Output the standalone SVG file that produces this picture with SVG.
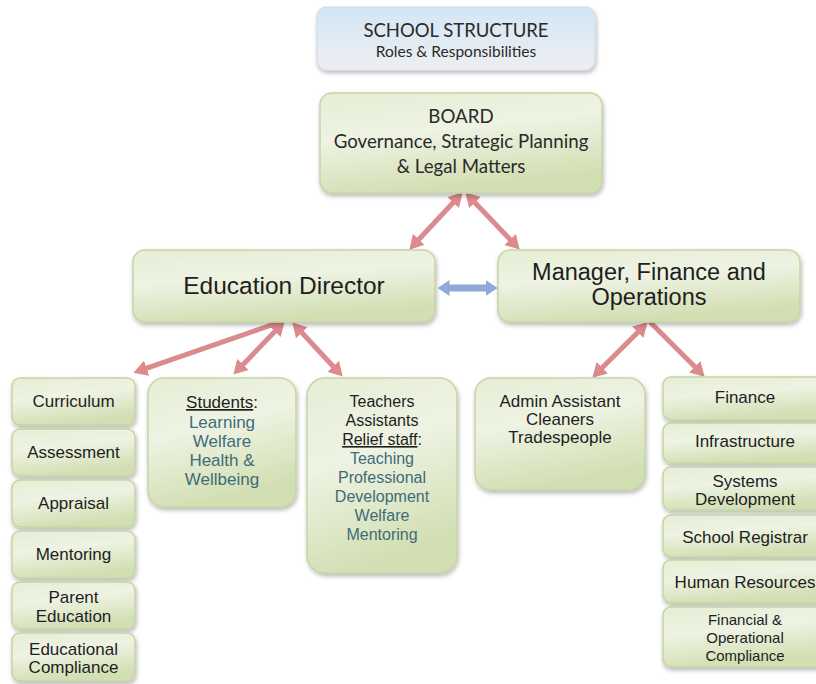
<svg xmlns="http://www.w3.org/2000/svg" width="816" height="684" viewBox="0 0 816 684">
  <style>
    .box { fill: url(#green); stroke: #c5d5a2; stroke-width: 1.5; filter: url(#shadow); }
    .title-box { fill: url(#blueish); stroke: #d3dde6; stroke-width: 1.2; filter: url(#shadow); }
    .cal { font-family: Lato, "Open Sans", sans-serif; fill: #2a2a2a; text-anchor: middle; }
    .ar { font-family: "Liberation Sans", Arial, sans-serif; fill: #1e1e1e; text-anchor: middle; }
    .big { font-size: 24.5px; }
    .sm { font-size: 17px; }
    .teal { fill: #3e6c78; }
    .u { text-decoration: underline; }
    .red { stroke: #db8a8d; stroke-width: 5; fill: none; }
    .blue { stroke: #8eabd7; stroke-width: 7; fill: none; }
  </style>
  <defs>
    <linearGradient id="green" x1="0" y1="0" x2="0.3" y2="1">
      <stop offset="0" stop-color="#e6eed5"/>
      <stop offset="0.45" stop-color="#eef3e3"/>
      <stop offset="1" stop-color="#d2dfb3"/>
    </linearGradient>
    <linearGradient id="blueish" x1="0" y1="0" x2="0" y2="1">
      <stop offset="0" stop-color="#d3e6f5"/>
      <stop offset="1" stop-color="#edeff1"/>
    </linearGradient>
    <filter id="shadow" x="-10%" y="-10%" width="125%" height="135%">
      <feDropShadow dx="1" dy="2.5" stdDeviation="2" flood-color="#000" flood-opacity="0.28"/>
    </filter>
    <marker id="redHead" viewBox="0 0 14 16" refX="0.5" refY="8" markerWidth="14" markerHeight="16" markerUnits="userSpaceOnUse" orient="auto-start-reverse">
      <path d="M0,0 L14,8 L0,16 z" fill="#db8a8d"/>
    </marker>
    <marker id="blueHead" viewBox="0 0 12 16" refX="0.5" refY="8" markerWidth="12" markerHeight="16" markerUnits="userSpaceOnUse" orient="auto-start-reverse">
      <path d="M0,0 L12,8 L0,16 z" fill="#8eabd7"/>
    </marker>
  </defs>

  <rect width="816" height="684" fill="#ffffff"/>

  <!-- connectors -->
  <g id="connectors">
    <line class="red" x1="453.5" y1="202.2" x2="418.5" y2="239.8" marker-start="url(#redHead)" marker-end="url(#redHead)"/>
    <line class="red" x1="474.6" y1="202.2" x2="510.4" y2="239.8" marker-start="url(#redHead)" marker-end="url(#redHead)"/>
    <line class="red" x1="283" y1="321" x2="146.2" y2="368.4" marker-end="url(#redHead)"/>
    <line class="red" x1="275.3" y1="331.1" x2="242.7" y2="364.9" marker-start="url(#redHead)" marker-end="url(#redHead)"/>
    <line class="red" x1="301.5" y1="332.3" x2="333.5" y2="366.7" marker-start="url(#redHead)" marker-end="url(#redHead)"/>
    <line class="red" x1="638.1" y1="331.9" x2="601.9" y2="368.1" marker-start="url(#redHead)" marker-end="url(#redHead)"/>
    <line class="red" x1="650" y1="322" x2="695.1" y2="367.1" marker-end="url(#redHead)"/>
    <line class="blue" x1="449" y1="288" x2="486" y2="288" marker-start="url(#blueHead)" marker-end="url(#blueHead)"/>
  </g>

  <!-- heading -->
  <g id="title">
    <rect class="title-box" x="317" y="7" width="278" height="63" rx="10"/>
    <text class="cal" x="456" y="37" font-size="18.5">SCHOOL STRUCTURE</text>
    <text class="cal" x="456" y="57" font-size="15.5">Roles &amp; Responsibilities</text>
  </g>

  <g id="board">
    <rect class="box" x="320" y="93" width="282" height="100" rx="12"/>
    <text class="cal" x="461" y="123" font-size="18.7">BOARD</text>
    <text class="cal" x="461" y="148" font-size="18.7">Governance, Strategic Planning</text>
    <text class="cal" x="461" y="173" font-size="18.7">&amp; Legal Matters</text>
  </g>

  <g id="education-director">
    <rect class="box" x="133" y="250" width="302" height="72" rx="12"/>
    <text class="ar big" x="284" y="294">Education Director</text>
  </g>

  <g id="manager">
    <rect class="box" x="498" y="250" width="302" height="72" rx="12"/>
    <text class="ar" font-size="23.5" x="649" y="280">Manager, Finance and</text>
    <text class="ar" font-size="23.5" x="649" y="305">Operations</text>
  </g>

  <!-- education column -->
  <g id="curriculum">
    <rect class="box" x="12" y="378" width="123" height="47" rx="8"/>
    <text class="ar sm" x="73.5" y="407">Curriculum</text>
  </g>
  <g id="assessment">
    <rect class="box" x="12" y="429" width="123" height="47" rx="8"/>
    <text class="ar sm" x="73.5" y="458">Assessment</text>
  </g>
  <g id="appraisal">
    <rect class="box" x="12" y="480" width="123" height="47" rx="8"/>
    <text class="ar sm" x="73.5" y="509">Appraisal</text>
  </g>
  <g id="mentoring">
    <rect class="box" x="12" y="531" width="123" height="47" rx="8"/>
    <text class="ar sm" x="73.5" y="560">Mentoring</text>
  </g>
  <g id="parent-education">
    <rect class="box" x="12" y="582" width="123" height="47" rx="8"/>
    <text class="ar sm" x="73.5" y="603">Parent</text>
    <text class="ar sm" x="73.5" y="622">Education</text>
  </g>
  <g id="educational-compliance">
    <rect class="box" x="12" y="633" width="123" height="48" rx="8"/>
    <text class="ar sm" x="73.5" y="655">Educational</text>
    <text class="ar sm" x="73.5" y="673">Compliance</text>
  </g>

  <g id="students">
    <rect class="box" x="148" y="378" width="148" height="129" rx="16"/>
    <text class="ar sm" x="222" y="408"><tspan class="u">Students</tspan>:</text>
    <text class="ar sm teal" x="222" y="428">Learning</text>
    <text class="ar sm teal" x="222" y="447">Welfare</text>
    <text class="ar sm teal" x="222" y="466">Health &amp;</text>
    <text class="ar sm teal" x="222" y="485">Wellbeing</text>
  </g>

  <g id="teachers">
    <rect class="box" x="307" y="378" width="150" height="195" rx="18"/>
    <text class="ar" font-size="16" x="382" y="407">Teachers</text>
    <text class="ar" font-size="16" x="382" y="426">Assistants</text>
    <text class="ar" font-size="16" x="382" y="445"><tspan class="u">Relief staff</tspan>:</text>
    <text class="ar teal" font-size="16" x="382" y="464">Teaching</text>
    <text class="ar teal" font-size="16" x="382" y="483">Professional</text>
    <text class="ar teal" font-size="16" x="382" y="502">Development</text>
    <text class="ar teal" font-size="16" x="382" y="521">Welfare</text>
    <text class="ar teal" font-size="16" x="382" y="540">Mentoring</text>
  </g>

  <!-- operations column -->
  <g id="admin">
    <rect class="box" x="475" y="378" width="170" height="112" rx="16"/>
    <text class="ar sm" x="560" y="407">Admin Assistant</text>
    <text class="ar sm" x="560" y="425">Cleaners</text>
    <text class="ar sm" x="560" y="443">Tradespeople</text>
  </g>

  <g id="finance">
    <rect class="box" x="663" y="377" width="166" height="43" rx="8"/>
    <text class="ar sm" x="745" y="403">Finance</text>
  </g>
  <g id="infrastructure">
    <rect class="box" x="663" y="423" width="166" height="40" rx="8"/>
    <text class="ar sm" x="745" y="447">Infrastructure</text>
  </g>
  <g id="systems-development">
    <rect class="box" x="663" y="467" width="166" height="43" rx="8"/>
    <text class="ar sm" x="745" y="487">Systems</text>
    <text class="ar sm" x="745" y="505">Development</text>
  </g>
  <g id="school-registrar">
    <rect class="box" x="663" y="515" width="166" height="42" rx="8"/>
    <text class="ar sm" x="745" y="543">School Registrar</text>
  </g>
  <g id="human-resources">
    <rect class="box" x="663" y="560" width="166" height="43" rx="8"/>
    <text class="ar sm" x="745" y="588">Human Resources</text>
  </g>
  <g id="financial-compliance">
    <rect class="box" x="663" y="607" width="166" height="60" rx="8"/>
    <text class="ar" font-size="15" x="745" y="625">Financial &amp;</text>
    <text class="ar" font-size="15" x="745" y="643">Operational</text>
    <text class="ar" font-size="15" x="745" y="661">Compliance</text>
  </g>
</svg>
